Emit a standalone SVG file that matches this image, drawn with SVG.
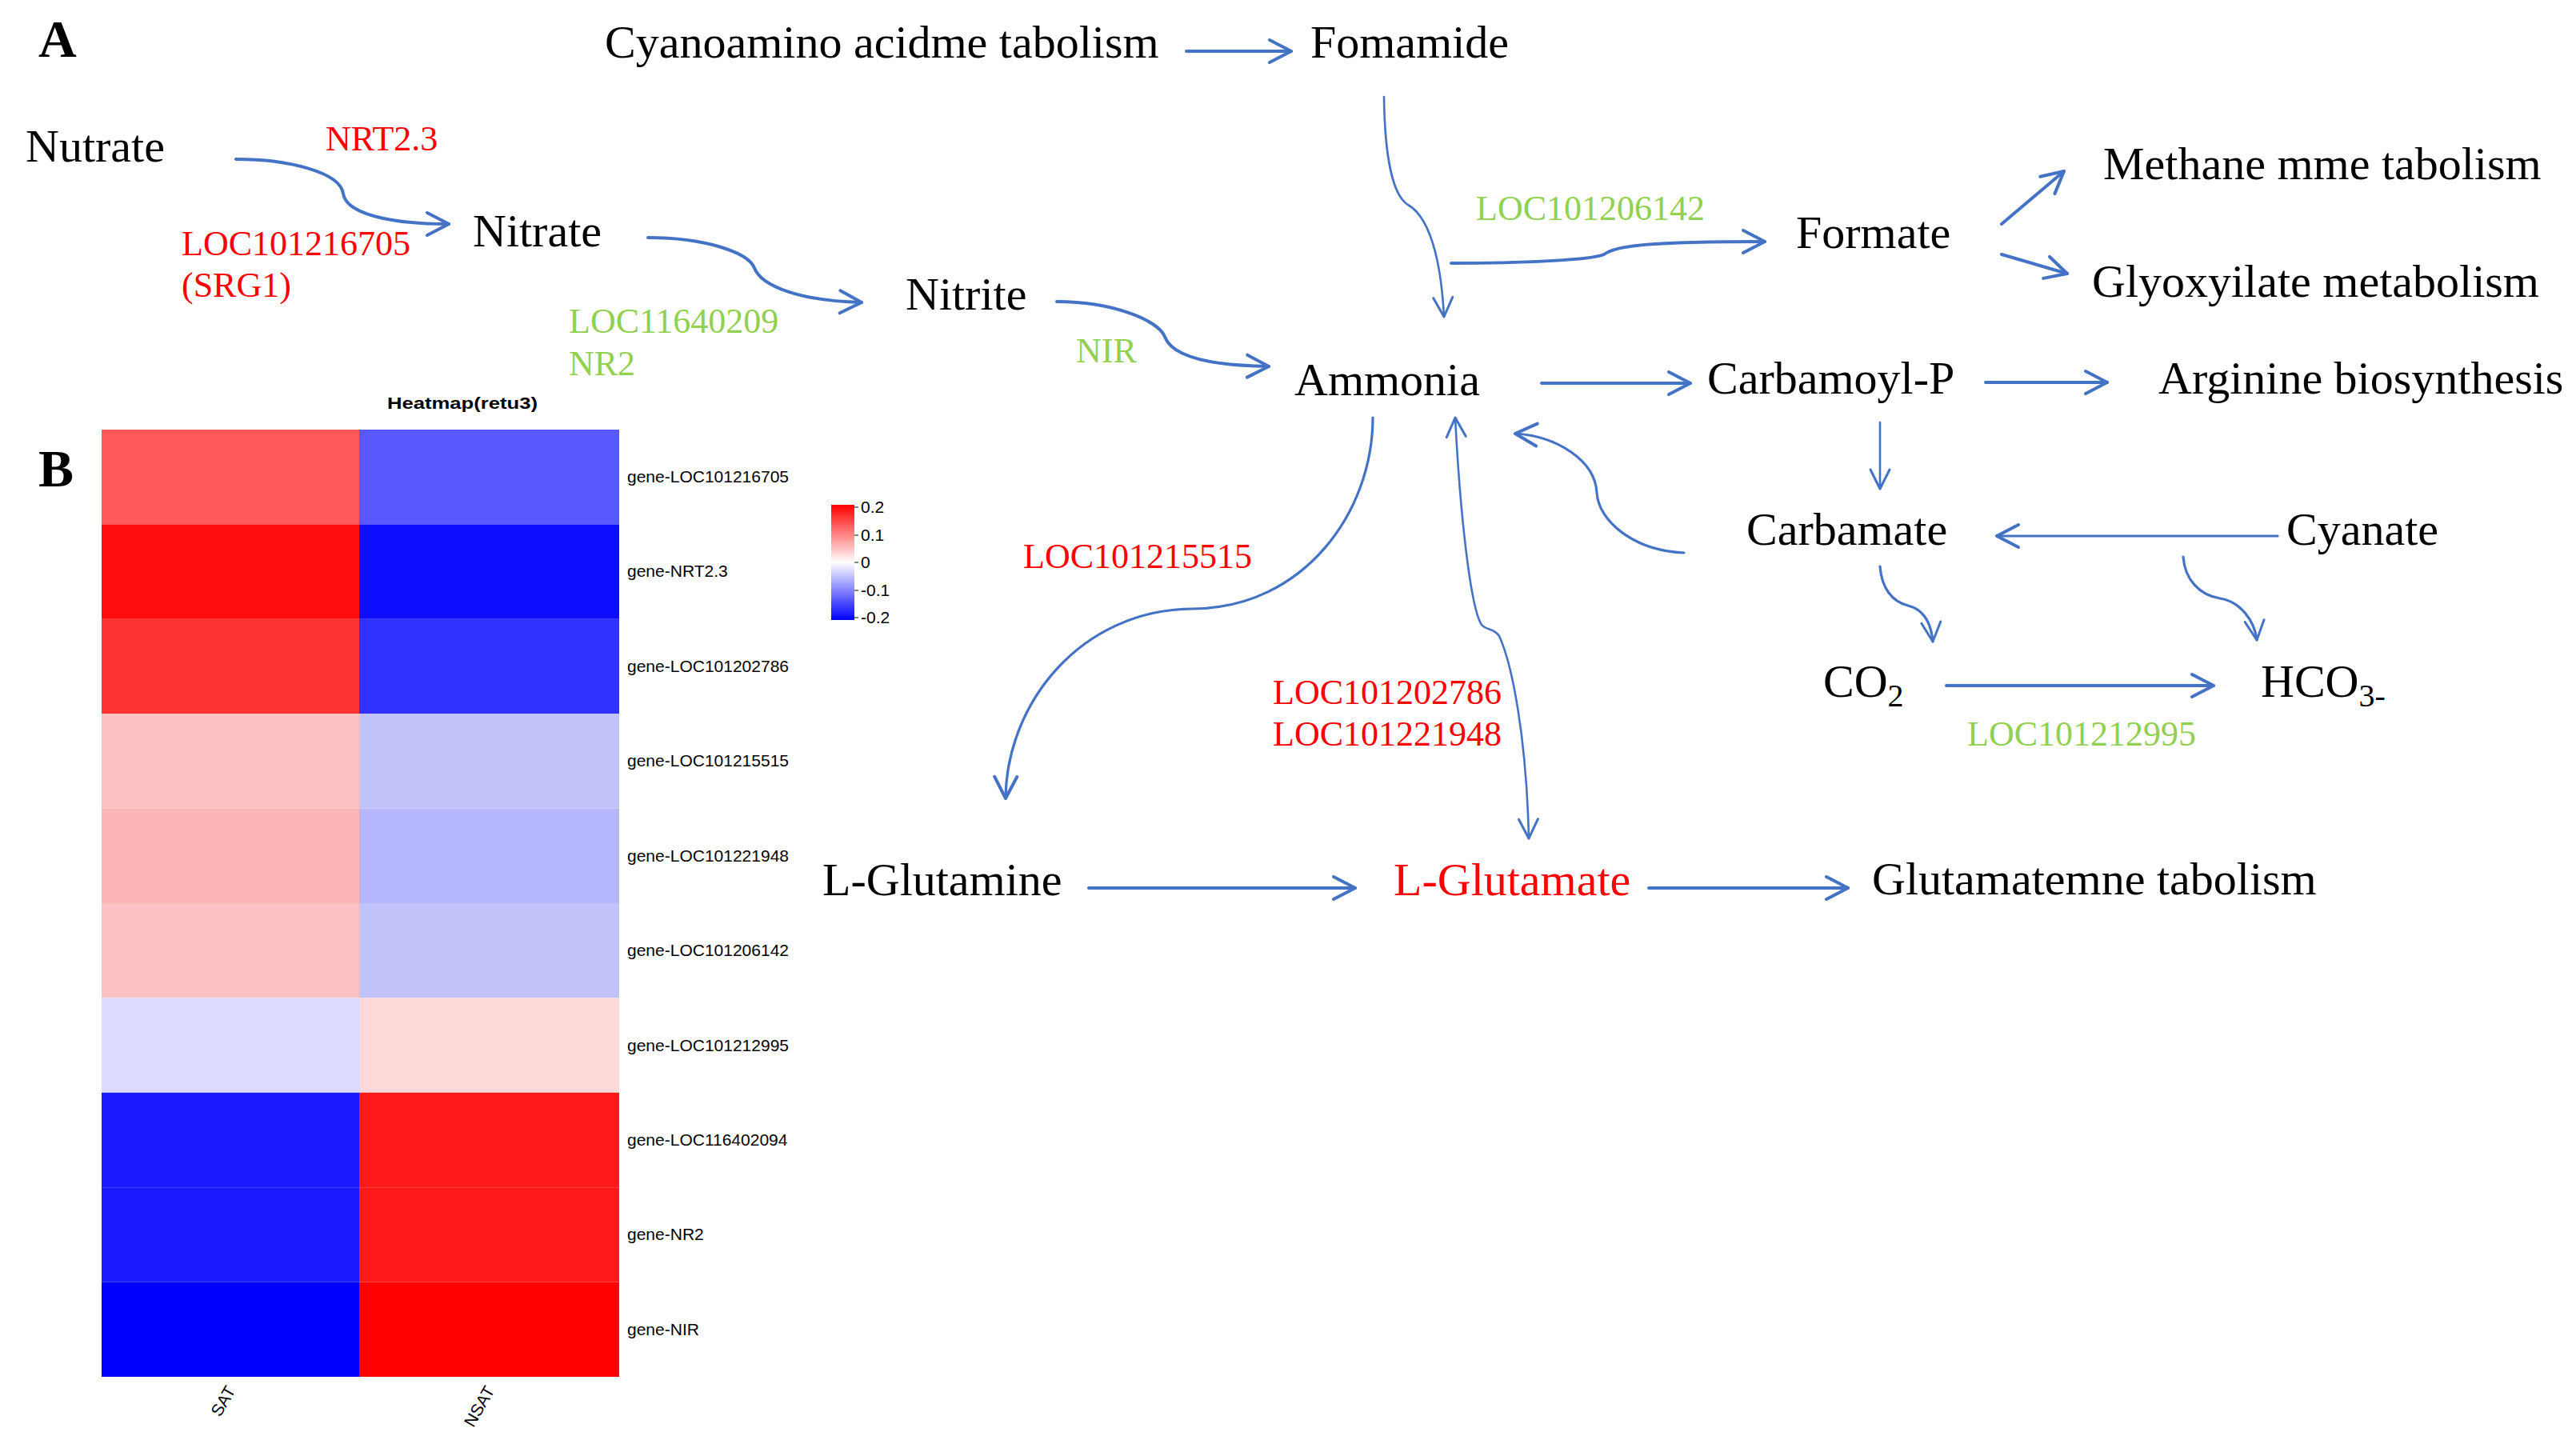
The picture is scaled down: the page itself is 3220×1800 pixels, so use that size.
<svg xmlns="http://www.w3.org/2000/svg" width="3220" height="1800" viewBox="0 0 3220 1800">
<style>
.lbl{font-family:"Liberation Serif","Times New Roman",serif;font-size:58px;fill:#000}
.gene{font-family:"Liberation Serif","Times New Roman",serif;font-size:44px}
.red{fill:#FF0000}
.grn{fill:#92D050}
.panel{font-family:"Liberation Serif","Times New Roman",serif;font-weight:bold;font-size:66px;fill:#000}
.hm{font-family:"Liberation Sans",Arial,sans-serif;font-size:21px;fill:#000}
.c{fill:none;stroke:#4472C4;stroke-linecap:round}
.w4{stroke-width:4}
.w3{stroke-width:3.2}
.w2{stroke-width:2.6}
</style>
<defs>
<marker id="ah" markerUnits="userSpaceOnUse" viewBox="-32 -18 36 36" markerWidth="36" markerHeight="36" refX="0" refY="0" orient="auto-start-reverse">
<path d="M-27,-14 L0,0 L-27,14" fill="none" stroke="#4472C4" stroke-width="4" stroke-linecap="round" stroke-linejoin="round"/>
</marker>
<marker id="ahT" markerUnits="userSpaceOnUse" viewBox="-32 -18 36 36" markerWidth="36" markerHeight="36" refX="0" refY="0" orient="auto-start-reverse">
<path d="M-24,-12 L0,0 L-24,12" fill="none" stroke="#4472C4" stroke-width="3" stroke-linecap="round" stroke-linejoin="round"/>
</marker>
<linearGradient id="leg" x1="0" y1="0" x2="0" y2="1">
<stop offset="0" stop-color="#FF0000"/>
<stop offset="0.5" stop-color="#FFFFFF"/>
<stop offset="1" stop-color="#0000FF"/>
</linearGradient>
</defs>
<rect width="3220" height="1800" fill="#FFFFFF"/>

<text class="panel" x="48" y="71">A</text>
<text class="panel" x="48" y="608">B</text>

<g id="connectors">
<path class="c w4" d="M1483,64 L1614,64" marker-end="url(#ah)"/>
<path class="c w4" d="M295,199 C360,199 425,215 429,242 C433,268 490,280 561,280" marker-end="url(#ah)"/>
<path class="c w4" d="M810,297 C880,297 935,315 943,335 C952,358 1000,376 1077,378" marker-end="url(#ah)"/>
<path class="c w4" d="M1321,377 C1390,377 1448,400 1456,421 C1465,445 1510,457 1586,458" marker-end="url(#ah)"/>
<path class="c w2" d="M1730,121 C1731,200 1742,245 1760,256 C1778,266 1800,300 1805,396" marker-end="url(#ahT)"/>
<path class="c w4" d="M1814,329 C1900,329 1990,325 2005,318 C2020,307 2060,302 2206,302" marker-end="url(#ah)"/>
<path class="c w4" d="M2502,280 L2580,214" marker-end="url(#ah)"/>
<path class="c w4" d="M2502,318 L2584,342" marker-end="url(#ah)"/>
<path class="c w4" d="M1927,479 L2113,479" marker-end="url(#ah)"/>
<path class="c w4" d="M2482,478 L2634,478" marker-end="url(#ah)"/>
<path class="c w2" d="M2350,528 L2350,611" marker-end="url(#ahT)"/>
<path class="c w3" d="M2847,670 L2496,670" marker-end="url(#ah)"/>
<path class="c w3" d="M2105,691 C2040,688 1998,650 1996,616 C1994,575 1945,545 1894,542" marker-end="url(#ah)"/>
<path class="c w3" d="M1716,522 C1716,640 1630,760 1491,761 C1350,762 1258,880 1257,998" marker-end="url(#ah)"/>
<path class="c w2" d="M1819,522 C1825,640 1838,760 1852,781 C1858,788 1868,785 1874,795 C1890,830 1908,920 1911,1048" marker-start="url(#ahT)" marker-end="url(#ahT)"/>
<path class="c w4" d="M1361,1110 L1694,1110" marker-end="url(#ah)"/>
<path class="c w4" d="M2061,1110 L2310,1110" marker-end="url(#ah)"/>
<path class="c w3" d="M2350,708 C2352,735 2365,752 2385,757 C2405,762 2414,780 2416,802" marker-end="url(#ahT)"/>
<path class="c w3" d="M2729,696 C2731,725 2750,744 2775,748 C2800,752 2818,775 2821,800" marker-end="url(#ahT)"/>
<path class="c w4" d="M2433,857 L2767,857" marker-end="url(#ah)"/>
</g>

<g id="n-cyanoamino"><text class="lbl" x="756" y="72">Cyanoamino acidme tabolism</text></g>
<g id="n-fomamide"><text class="lbl" x="1638" y="72">Fomamide</text></g>
<g id="n-nutrate"><text class="lbl" x="32" y="202">Nutrate</text></g>
<g id="n-nitrate"><text class="lbl" x="591" y="308">Nitrate</text></g>
<g id="n-nitrite"><text class="lbl" x="1132" y="387">Nitrite</text></g>
<g id="n-ammonia"><text class="lbl" x="1618" y="494">Ammonia</text></g>
<g id="n-formate"><text class="lbl" x="2245" y="310">Formate</text></g>
<g id="n-methane"><text class="lbl" x="2629" y="224">Methane mme tabolism</text></g>
<g id="n-glyoxylate"><text class="lbl" x="2615" y="371">Glyoxyilate metabolism</text></g>
<g id="n-carbamoylp"><text class="lbl" x="2134" y="492">Carbamoyl-P</text></g>
<g id="n-arginine"><text class="lbl" x="2698" y="492">Arginine biosynthesis</text></g>
<g id="n-carbamate"><text class="lbl" x="2183" y="681">Carbamate</text></g>
<g id="n-cyanate"><text class="lbl" x="2858" y="681">Cyanate</text></g>
<g id="n-co2"><text class="lbl" x="2279" y="871">CO<tspan font-size="40" dy="12">2</tspan></text></g>
<g id="n-hco3"><text class="lbl" x="2826" y="871">HCO<tspan font-size="40" dy="12">3-</tspan></text></g>
<g id="n-glutamine"><text class="lbl" x="1028" y="1119">L-Glutamine</text></g>
<g id="n-glutamate"><text class="lbl red" x="1742" y="1119">L-Glutamate</text></g>
<g id="n-glutmetab"><text class="lbl" x="2340" y="1118">Glutamatemne tabolism</text></g>

<g id="gene-labels">
<text class="gene red" x="407" y="188">NRT2.3</text>
<text class="gene red" x="227" y="319">LOC101216705</text>
<text class="gene red" x="227" y="371">(SRG1)</text>
<text class="gene grn" x="711" y="416">LOC11640209</text>
<text class="gene grn" x="711" y="469">NR2</text>
<text class="gene grn" x="1345" y="453">NIR</text>
<text class="gene grn" x="1845" y="275">LOC101206142</text>
<text class="gene red" x="1279" y="710">LOC101215515</text>
<text class="gene red" x="1591" y="880">LOC101202786</text>
<text class="gene red" x="1591" y="932">LOC101221948</text>
<text class="gene grn" x="2459" y="932">LOC101212995</text>
</g>

<g id="heatmap">
<text class="hm" x="484" y="511" font-weight="bold" font-size="30" textLength="188" lengthAdjust="spacingAndGlyphs">Heatmap(retu3)</text>
<rect x="127" y="537" width="322" height="118.4" fill="#FF5858"/>
<rect x="449" y="537" width="325" height="118.4" fill="#5858FF"/>
<rect x="127" y="655.4" width="322" height="118.4" fill="#FF0D0D"/>
<rect x="449" y="655.4" width="325" height="118.4" fill="#0D0DFF"/>
<rect x="127" y="773.8" width="322" height="118.4" fill="#FF3333"/>
<rect x="449" y="773.8" width="325" height="118.4" fill="#3030FF"/>
<rect x="127" y="892.2" width="322" height="118.4" fill="#FCC1C1"/>
<rect x="449" y="892.2" width="325" height="118.4" fill="#C3C3FC"/>
<rect x="127" y="1010.6" width="322" height="118.4" fill="#FCB6B6"/>
<rect x="449" y="1010.6" width="325" height="118.4" fill="#B6B6FC"/>
<rect x="127" y="1129" width="322" height="118.4" fill="#FCC1C1"/>
<rect x="449" y="1129" width="325" height="118.4" fill="#C3C3FC"/>
<rect x="127" y="1247.4" width="322" height="118.4" fill="#DBDBFE"/>
<rect x="449" y="1247.4" width="325" height="118.4" fill="#FED9D9"/>
<rect x="127" y="1365.8" width="322" height="118.4" fill="#1A1AFF"/>
<rect x="449" y="1365.8" width="325" height="118.4" fill="#FF1A1A"/>
<rect x="127" y="1484.2" width="322" height="118.4" fill="#1A1AFF"/>
<rect x="449" y="1484.2" width="325" height="118.4" fill="#FF1A1A"/>
<rect x="127" y="1602.6" width="322" height="118.4" fill="#0000FF"/>
<rect x="449" y="1602.6" width="325" height="118.4" fill="#FF0000"/>
<text class="hm" x="784" y="603">gene-LOC101216705</text>
<text class="hm" x="784" y="721">gene-NRT2.3</text>
<text class="hm" x="784" y="840">gene-LOC101202786</text>
<text class="hm" x="784" y="958">gene-LOC101215515</text>
<text class="hm" x="784" y="1077">gene-LOC101221948</text>
<text class="hm" x="784" y="1195">gene-LOC101206142</text>
<text class="hm" x="784" y="1314">gene-LOC101212995</text>
<text class="hm" x="784" y="1432">gene-LOC116402094</text>
<text class="hm" x="784" y="1550">gene-NR2</text>
<text class="hm" x="784" y="1669">gene-NIR</text>
<text class="hm" font-size="23" text-anchor="end" transform="translate(295,1738) rotate(-60)">SAT</text>
<text class="hm" font-size="23" text-anchor="end" transform="translate(619,1738) rotate(-60)">NSAT</text>
</g>

<g id="legend">
<rect x="1039" y="631" width="29" height="144" fill="url(#leg)"/>
<g stroke="#333" stroke-width="1.2">
<line x1="1068" y1="634" x2="1073" y2="634"/>
<line x1="1068" y1="669" x2="1073" y2="669"/>
<line x1="1068" y1="703" x2="1073" y2="703"/>
<line x1="1068" y1="738" x2="1073" y2="738"/>
<line x1="1068" y1="772" x2="1073" y2="772"/>
</g>
<text class="hm" x="1076" y="641">0.2</text>
<text class="hm" x="1076" y="676">0.1</text>
<text class="hm" x="1076" y="710">0</text>
<text class="hm" x="1076" y="745">-0.1</text>
<text class="hm" x="1076" y="779">-0.2</text>
</g>
</svg>
